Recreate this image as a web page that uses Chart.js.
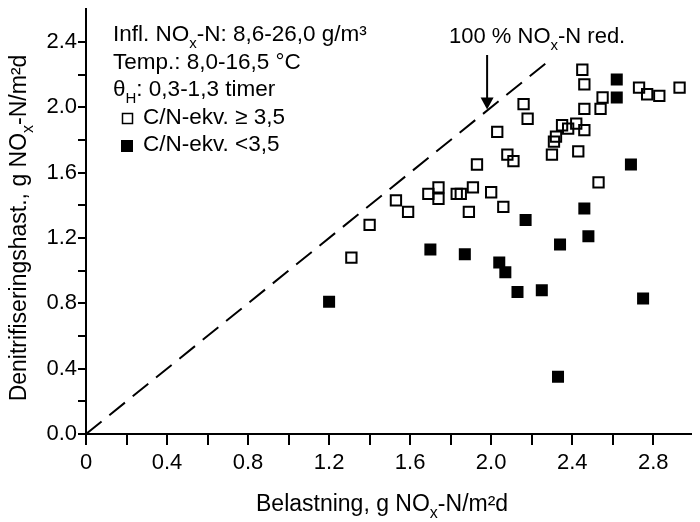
<!DOCTYPE html>
<html lang="no">
<head>
<meta charset="UTF-8">
<title>Denitrifiseringshastighet mot belastning</title>
<script src="https://cdn.jsdelivr.net/npm/chart.js@4.4.0/dist/chart.umd.min.js"></script>
<style>
    html, body {
        margin: 0;
        padding: 0;
        background: #fff;
    }
    #wrap {
        width: 700px;
        height: 522px;
    }
</style>
</head>
<body>
<div id="wrap"><canvas id="chart" width="700" height="522"></canvas></div>
<script>
// C/N-ekv. >= 3,5 (open squares)
const highX = [2.45, 2.46, 2.73, 2.77, 2.83, 2.93, 2.55, 2.54, 2.46, 2.16, 2.18, 2.35, 2.42, 2.38, 2.46, 2.32, 2.31, 2.30, 2.43,
               2.03, 2.08, 2.11, 1.93, 2.53, 1.91, 2.00, 1.74, 1.74, 1.69, 1.83, 1.85, 1.53, 1.59, 1.89, 2.06, 1.40, 1.31];
const highY = [2.23, 2.14, 2.12, 2.08, 2.07, 2.12, 2.06, 1.99, 1.99, 2.02, 1.93, 1.89, 1.90, 1.87, 1.86, 1.82, 1.79, 1.71, 1.73,
               1.85, 1.71, 1.67, 1.65, 1.54, 1.51, 1.48, 1.51, 1.44, 1.47, 1.47, 1.47, 1.43, 1.36, 1.36, 1.39, 1.28, 1.08];

// C/N-ekv. < 3,5 (filled squares)
const lowX = [2.62, 2.62, 2.69, 2.46, 2.17, 2.48, 2.34, 1.70, 1.87, 2.04, 2.07, 2.13, 2.25, 2.75, 1.20, 2.33];
const lowY = [2.17, 2.06, 1.65, 1.38, 1.31, 1.21, 1.16, 1.13, 1.10, 1.05, 0.99, 0.87, 0.88, 0.83, 0.81, 0.35];

// 100 % NOx-N reduction line (1:1)
const refX = [0, 2.29];
const refY = [0, 2.29];
const arrowAt = 1.98;

// axes
const xTicks = [0, 0.2, 0.4, 0.6, 0.8, 1.0, 1.2, 1.4, 1.6, 1.8, 2.0, 2.2, 2.4, 2.6, 2.8];
const xTickLabels = ['0', '', '0.4', '', '0.8', '', '1.2', '', '1.6', '', '2.0', '', '2.4', '', '2.8'];
const yTicks = [0, 0.2, 0.4, 0.6, 0.8, 1.0, 1.2, 1.4, 1.6, 1.8, 2.0, 2.2, 2.4];
const yTickLabels = ['0.0', '', '0.4', '', '0.8', '', '1.2', '', '1.6', '', '2.0', '', '2.4'];

const FONT = "'Liberation Sans', Arial, Helvetica, sans-serif";

// draws text pieces, 'sub' parts are smaller and lowered
function drawRich(c, parts, x, y, size) {
    parts.forEach(p => {
        let fs = size, dy = 0;
        if (p[1] === 'sub') { fs = Math.round(size * 0.68); dy = size * 0.3; }
        c.font = fs + 'px ' + FONT;
        c.fillText(p[0], x, y + dy);
        x += c.measureText(p[0]).width;
    });
    return x;
}
function richWidth(c, parts, size) {
    let w = 0;
    parts.forEach(p => {
        const fs = p[1] === 'sub' ? Math.round(size * 0.68) : size;
        c.font = fs + 'px ' + FONT;
        w += c.measureText(p[0]).width;
    });
    return w;
}

const textPlugin = {
    id: 'texts',
    afterDraw(chart) {
        const c = chart.ctx;
        const xs = chart.scales.x, ys = chart.scales.y;
        c.save();
        c.fillStyle = '#000';
        c.strokeStyle = '#000';
        c.textBaseline = 'alphabetic';
        c.textAlign = 'left';

        // axis titles
        drawRich(c, [['Belastning, g NO', 'n'], ['x', 'sub'], ['-N/m²d', 'n']], 256, 511, 23);

        const yParts = [['Denitrifiseringshast., g NO', 'n'], ['x', 'sub'], ['-N/m²d', 'n']];
        const yw = richWidth(c, yParts, 23);
        c.save();
        c.translate(26, 228);
        c.rotate(-Math.PI / 2);
        drawRich(c, yParts, -yw / 2, 0, 23);
        c.restore();

        // conditions
        const lx = 113;
        drawRich(c, [['Infl. NO', 'n'], ['x', 'sub'], ['-N: 8,6-26,0 g/m³', 'n']], lx, 41, 22.5);
        drawRich(c, [['Temp.: 8,0-16,5 °C', 'n']], lx, 69, 22.5);
        drawRich(c, [['θ', 'n'], ['H', 'sub'], [': 0,3-1,3 timer', 'n']], lx, 96, 22.5);

        // legend
        c.lineWidth = 1.5;
        c.strokeRect(122.5, 113.5, 10, 10);
        drawRich(c, [['C/N-ekv. ≥ 3,5', 'n']], 143, 124, 22.5);
        c.fillRect(121, 140, 12, 12);
        drawRich(c, [['C/N-ekv. <3,5', 'n']], 143, 151, 22.5);

        // 100 % label + arrow to the 1:1 line
        drawRich(c, [['100 % NO', 'n'], ['x', 'sub'], ['-N red.', 'n']], 449, 43, 22);
        const ax = xs.getPixelForValue(arrowAt);
        const tip = ys.getPixelForValue(arrowAt) - 1;
        c.lineWidth = 2;
        c.beginPath();
        c.moveTo(ax, 55);
        c.lineTo(ax, tip - 10);
        c.stroke();
        c.beginPath();
        c.moveTo(ax - 6.5, tip - 12);
        c.lineTo(ax + 6.5, tip - 12);
        c.lineTo(ax, tip);
        c.closePath();
        c.fill();
        c.restore();
    }
};

function fixScale(s, w, h) {
    if (w !== null) s.width = w;
    if (h !== null) s.height = h;
    s.paddingLeft = 0;
    s.paddingRight = 0;
    s.paddingTop = 0;
    s.paddingBottom = 0;
}

new Chart(document.getElementById('chart'), {
    type: 'scatter',
    data: {
        datasets: [
            {
                label: '100 % NOx-N red.',
                type: 'line',
                data: refX.map((x, i) => ({ x: x, y: refY[i] })),
                borderColor: '#000',
                borderWidth: 2,
                borderDash: [20, 10],
                pointRadius: 0,
                fill: false
            },
            {
                label: 'C/N-ekv. ≥ 3,5',
                data: highX.map((x, i) => ({ x: x, y: highY[i] })),
                pointStyle: 'rect',
                pointRadius: 7.3,
                backgroundColor: 'rgba(0,0,0,0)',
                borderColor: '#000',
                borderWidth: 2
            },
            {
                label: 'C/N-ekv. <3,5',
                data: lowX.map((x, i) => ({ x: x, y: lowY[i] })),
                pointStyle: 'rect',
                pointRadius: 8.5,
                backgroundColor: '#000',
                borderColor: '#000',
                borderWidth: 0
            }
        ]
    },
    options: {
        responsive: false,
        animation: false,
        layout: { padding: { top: 2, left: 0, right: 0, bottom: 0 } },
        plugins: {
            legend: { display: false },
            tooltip: { enabled: false }
        },
        scales: {
            x: {
                type: 'linear',
                min: 0,
                max: 2.985,
                afterBuildTicks: s => { s.ticks = xTicks.map(v => ({ value: v })); },
                afterFit: s => fixScale(s, null, 88),
                ticks: {
                    autoSkip: false,
                    maxRotation: 0,
                    padding: 5,
                    color: '#000',
                    font: { family: FONT, size: 22 },
                    callback: (v, i) => xTickLabels[i]
                },
                grid: { drawOnChartArea: false, drawTicks: true, tickLength: 11, color: '#000', lineWidth: 2 },
                border: { display: true, color: '#000', width: 2 }
            },
            y: {
                type: 'linear',
                min: 0,
                max: 2.6,
                afterBuildTicks: s => { s.ticks = yTicks.map(v => ({ value: v })); },
                afterFit: s => fixScale(s, 86, null),
                ticks: {
                    autoSkip: false,
                    padding: 1,
                    color: '#000',
                    font: { family: FONT, size: 22 },
                    callback: (v, i) => yTickLabels[i]
                },
                grid: { drawOnChartArea: false, drawTicks: true, tickLength: 8, color: '#000', lineWidth: 2 },
                border: { display: true, color: '#000', width: 2 }
            }
        }
    },
    plugins: [textPlugin]
});
</script>
</body>
</html>
